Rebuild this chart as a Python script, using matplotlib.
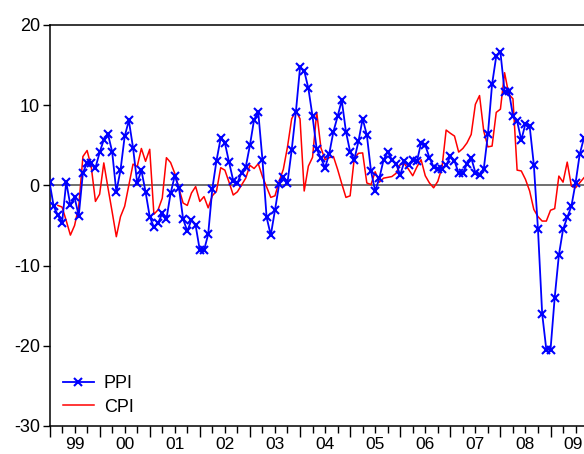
import numpy as np
import matplotlib.pyplot as plt
from matplotlib.transforms import blended_transform_factory

plt.rcParams['font.family'] = ['Liberation Sans', 'DejaVu Sans']
plt.rcParams['axes.unicode_minus'] = False

# monthly data, 1999M01 - 2009M09
years = ['99', '00', '01', '02', '03', '04', '05', '06', '07', '08', '09']

ppi = [0.4, -2.6, -3.7, -4.7, 0.4, -2.5, -1.5, -3.8, 1.6, 2.8, 2.8, 2.2,
       4.1, 5.7, 6.4, 4.2, -0.8, 1.9, 6.1, 8.1, 4.7, 0.3, 1.9, -0.8,
       -3.9, -5.2, -4.7, -3.5, -4.2, -1.0, 1.2, -0.3, -4.2, -5.7, -4.3, -5.0,
       -8.1, -8.1, -6.1, -0.4, 3.1, 5.9, 5.3, 2.9, 0.6, 0.3, 1.6, 2.3,
       5.0, 8.2, 9.1, 3.2, -4.0, -6.2, -3.1, 0.15, 1.1, 0.35, 4.4, 9.1,
       14.7, 14.3, 12.1, 8.6, 4.5, 3.4, 2.2, 3.95, 6.7, 8.6, 10.6, 6.7,
       4.2, 3.2, 5.5, 8.3, 6.3, 1.8, -0.7, 0.9, 3.15, 4.2, 3.2, 2.7,
       1.3, 3.0, 2.6, 3.2, 3.0, 5.3, 5.0, 3.45, 2.3, 2.0, 2.0, 2.5,
       3.65, 3.05, 1.5, 1.5, 2.7, 3.45, 1.6, 1.25, 2.0, 6.35, 12.6, 16.1,
       16.6, 11.7, 11.8, 8.7, 8.0, 5.65, 7.7, 7.4, 2.6, -5.5, -16.0, -20.5,
       -20.5, -14.0, -8.7, -5.5, -4.0, -2.6, 0.3, 3.9, 5.9]

cpi = [np.nan, np.nan, -2.5, -2.7, -4.4, -6.2, -5.0, -2.6, 3.6, 4.35, 2.3, -2.0,
       -1.1, 2.8, -0.3, -3.3, -6.4, -3.9, -2.6, 0.0, 2.65, 2.35, 4.6, 3.0,
       4.5, -3.6, -3.05, -1.6, 3.45, 2.85, 1.5, -0.4, -2.2, -2.5, -0.95, -0.15,
       -2.0, -1.4, -2.8, -1.3, -0.7, 2.2, 1.9, 0.4, -1.2, -0.8, 0.05, 0.9,
       2.5, 2.1, 2.7, 1.1, -0.2, -1.5, -1.3, 0.5, 2.0, 4.8, 8.3, 9.3,
       8.3, -0.7, 2.4, 3.5, 9.1, 4.7, 3.2, 3.45, 3.6, 2.0, 0.2, -1.5,
       -1.3, 3.4, 4.0, 4.05, 0.3, 0.1, 1.7, 0.4, 0.9, 1.0, 1.1, 1.5,
       2.6, 2.7, 2.0, 1.2, 2.3, 3.2, 1.2, 0.3, -0.3, 0.5, 2.2, 6.9,
       6.5, 6.15, 4.15, 4.6, 5.3, 6.35, 10.1, 11.2, 6.8, 4.8, 4.9, 9.1,
       9.5, 14.05, 11.35, 10.8, 1.9, 1.8, 0.75, -0.7, -3.0, -3.9, -4.45, -4.45,
       -3.1, -2.9, 1.16, 0.4, 2.9, -0.1, -0.3, 0.33, 0.95]

months = np.arange(len(ppi))
xmax = 131

fig = plt.figure(figsize=(5.84, 4.54), dpi=100)
ax = fig.add_axes([0.0848, 0.0617, 0.9365, 0.8833])

ax.axhline(0, color='#707070', lw=1.4, zorder=1)
ax.plot(months, ppi, color='blue', marker='x', ms=6, mew=1.5, lw=1.3, label='PPI', zorder=3)
ax.plot(months, cpi, color='red', lw=1.1, label='CPI', zorder=2)

ax.set_xlim(0, xmax)
ax.set_ylim(-30, 20)
ax.set_yticks([-30, -20, -10, 0, 10, 20])

# year boundaries as long ticks, quarters as short ticks
ax.set_xticks(np.arange(0, xmax, 12))
ax.set_xticks(np.arange(0, xmax, 3), minor=True)
ax.tick_params(axis='x', which='major', length=8, width=1, labelbottom=False)
ax.tick_params(axis='x', which='minor', length=5, width=1)
ax.tick_params(axis='y', length=5, width=1, labelsize=13, pad=2)

# year labels centred under each year
trans = blended_transform_factory(ax.transData, ax.transAxes)
for i, yr in enumerate(years):
    start = 12 * i
    end = min(start + 12, xmax)
    ax.text((start + end) / 2, -0.047, yr, transform=trans, ha='center', va='center', fontsize=12.5)

ax.spines['right'].set_visible(False)
for s in ['left', 'bottom', 'top']:
    ax.spines[s].set_linewidth(1.1)

ax.legend(loc='lower left', bbox_to_anchor=(-0.005, -0.015), frameon=False, fontsize=13,
          handlelength=1.7, handletextpad=0.55, labelspacing=0.35)

fig.savefig('out.png', dpi=100)
